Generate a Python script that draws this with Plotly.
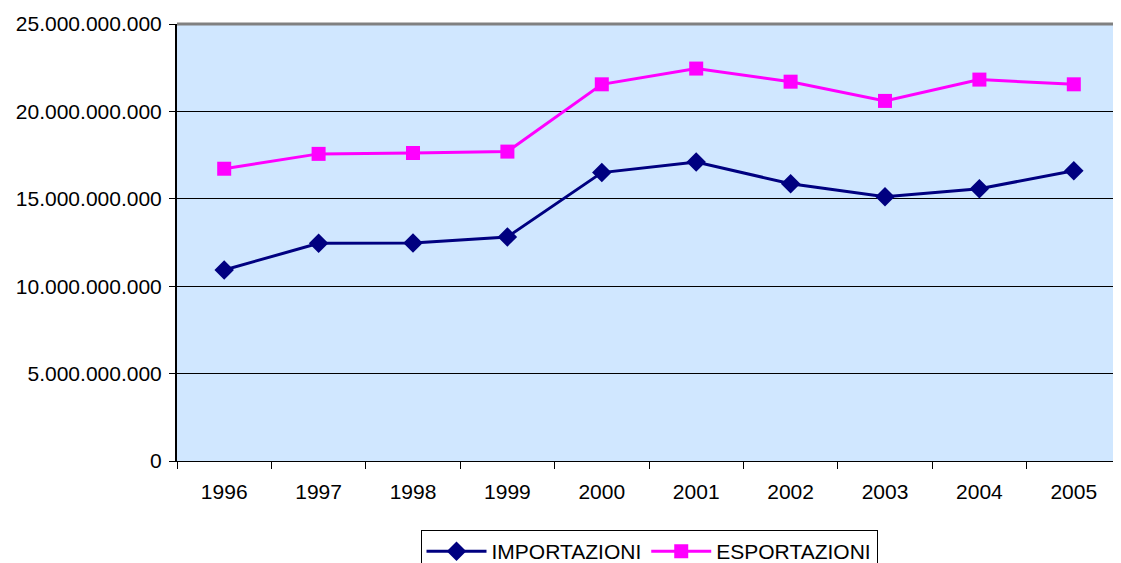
import plotly.graph_objects as go

years = ["1996", "1997", "1998", "1999", "2000", "2001", "2002", "2003", "2004", "2005"]
importazioni = [10.93e9, 12.45e9, 12.47e9, 12.82e9, 16.50e9, 17.10e9, 15.86e9, 15.12e9, 15.58e9, 16.60e9]
esportazioni = [16.72e9, 17.57e9, 17.62e9, 17.70e9, 21.55e9, 22.45e9, 21.70e9, 20.60e9, 21.82e9, 21.55e9]
y_ticks = [0, 5e9, 10e9, 15e9, 20e9, 25e9]

font = dict(family="Liberation Sans, Arial, sans-serif", size=21, color="black")

fig = go.Figure()
fig.add_trace(go.Scatter(
    x=years, y=importazioni, name="IMPORTAZIONI", mode="lines+markers",
    line=dict(color="#000080", width=3),
    marker=dict(symbol="diamond", size=15, color="#000080"),
))
fig.add_trace(go.Scatter(
    x=years, y=esportazioni, name="ESPORTAZIONI", mode="lines+markers",
    line=dict(color="#FF00FF", width=3),
    marker=dict(symbol="square", size=14, color="#FF00FF"),
))

# page body has an 8px margin, so the figure is shifted by 8px
fig.update_layout(
    width=1113, height=555,
    margin=dict(l=169, r=0, t=16, b=102, autoexpand=False),
    paper_bgcolor="white",
    plot_bgcolor="#D0E7FF",
    font=font,
    separators=",.",
    showlegend=True,
    legend=dict(
        orientation="h", x=0.5, xanchor="center", y=-0.158, yanchor="top",
        bordercolor="black", borderwidth=1, font=font,
        tracegroupgap=0, itemwidth=60,
    ),
)
fig.update_xaxes(
    type="category", showgrid=False, showline=True, linecolor="black", linewidth=1,
    ticks="outside", tickson="boundaries", ticklen=7, tickcolor="black",
    ticklabelstandoff=12, range=[-0.5, 9.5],
)
fig.update_yaxes(
    range=[0, 25e9], tickvals=y_ticks, tickformat=",d",
    showgrid=True, gridcolor="black", gridwidth=1,
    showline=True, linecolor="black", linewidth=2,
    ticks="outside", ticklen=6, tickcolor="black",
    zeroline=False, ticklabelstandoff=3,
)
fig.add_shape(type="line", xref="paper", yref="paper", x0=0, x1=1, y0=1, y1=1,
              line=dict(color="#808080", width=3), layer="above")

fig.write_html("out.html")
